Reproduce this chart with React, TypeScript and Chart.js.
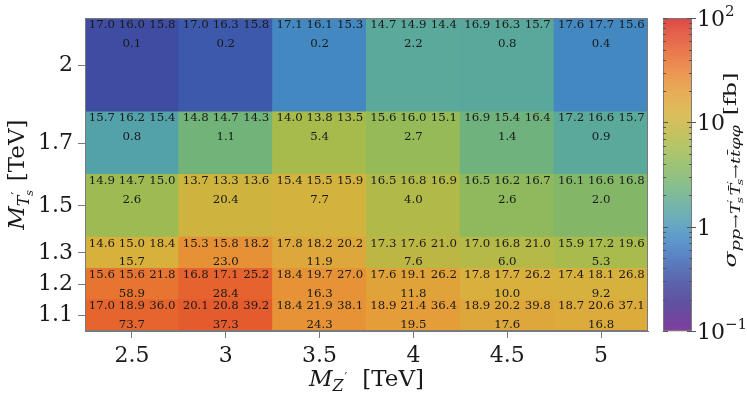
import React, { useEffect, useRef } from "react";
import { Chart, registerables } from "chart.js";

Chart.register(...registerables);

// ---------------- data ----------------
const mzLabels = ["2.5", "3", "3.5", "4", "4.5", "5"];
const mtValues = [1.1, 1.2, 1.3, 1.5, 1.7, 2.0];
const mtLabels = ["1.1", "1.2", "1.3", "1.5", "1.7", "2"];
const mtFloor = 1.0;

// rows follow mtValues (1.1 first), columns follow mzLabels
const firstVal = [
  [17.0, 20.1, 18.4, 18.9, 18.9, 18.7],
  [15.6, 16.8, 18.4, 17.6, 17.8, 17.4],
  [14.6, 15.3, 17.8, 17.3, 17.0, 15.9],
  [14.9, 13.7, 15.4, 16.5, 16.5, 16.1],
  [15.7, 14.8, 14.0, 15.6, 16.9, 17.2],
  [17.0, 17.0, 17.1, 14.7, 16.9, 17.6],
];
const secondVal = [
  [18.9, 20.8, 21.9, 21.4, 20.2, 20.6],
  [15.6, 17.1, 19.7, 19.1, 17.7, 18.1],
  [15.0, 15.8, 18.2, 17.6, 16.8, 17.2],
  [14.7, 13.3, 15.5, 16.8, 16.2, 16.6],
  [16.2, 14.7, 13.8, 16.0, 15.4, 16.6],
  [16.0, 16.3, 16.1, 14.9, 16.3, 17.7],
];
const thirdVal = [
  [36.0, 39.2, 38.1, 36.4, 39.8, 37.1],
  [21.8, 25.2, 27.0, 26.2, 26.2, 26.8],
  [18.4, 18.2, 20.2, 21.0, 21.0, 19.6],
  [15.0, 13.6, 15.9, 16.9, 16.7, 16.8],
  [15.4, 14.3, 13.5, 15.1, 16.4, 15.7],
  [15.8, 15.8, 15.3, 14.4, 15.7, 15.6],
];
const sigmaVal = [
  [73.7, 37.3, 24.3, 19.5, 17.6, 16.8],
  [58.9, 28.4, 16.3, 11.8, 10.0, 9.2],
  [15.7, 23.0, 11.9, 7.6, 6.0, 5.3],
  [2.6, 20.4, 7.7, 4.0, 2.6, 2.0],
  [0.8, 1.1, 5.4, 2.7, 1.4, 0.9],
  [0.1, 0.2, 0.2, 2.2, 0.8, 0.4],
];
// colour level of each cell (fb)
const colourVal = [
  [45, 52, 23.4, 19.7, 16, 14.5],
  [36.7, 46.8, 23.4, 17.2, 13.1, 12.2],
  [12.6, 24, 16, 8, 7.2, 6.1],
  [5.1, 10.2, 11.7, 6.8, 4.0, 3.3],
  [1.29, 2.4, 5.9, 4.5, 2.3, 1.58],
  [0.31, 0.38, 0.79, 1.58, 1.55, 0.79],
];
const cbMin = 0.1;
const cbMax = 100;
const cbMajor = [0.1, 1, 10, 100];

// ---------------- colour map ----------------
const cmapStops: [number, string][] = [
  [0.0, "#6e1f8e"],
  [0.02, "#601f8e"],
  [0.08, "#45308e"],
  [0.15, "#3e469c"],
  [0.215, "#3d63b2"],
  [0.28, "#3f80c4"],
  [0.34, "#4b99b8"],
  [0.4, "#5ba99a"],
  [0.46, "#72b37a"],
  [0.53, "#8cb95d"],
  [0.595, "#a9bb4c"],
  [0.67, "#cdb43f"],
  [0.7, "#d8b13d"],
  [0.76, "#e39f39"],
  [0.825, "#ea8434"],
  [0.89, "#e6622e"],
  [0.955, "#df432b"],
  [1.0, "#d7262a"],
];
function hexRgb(h: string) {
  const n = parseInt(h.slice(1), 16);
  return [(n >> 16) & 255, (n >> 8) & 255, n & 255];
}
function cmap(t: number) {
  t = Math.max(0, Math.min(1, t));
  for (let i = 0; i < cmapStops.length - 1; i++) {
    const [t0, c0] = cmapStops[i];
    const [t1, c1] = cmapStops[i + 1];
    if (t <= t1) {
      const f = (t - t0) / (t1 - t0);
      const a = hexRgb(c0);
      const b = hexRgb(c1);
      const c = a.map((v, k) => Math.round(v + (b[k] - v) * f));
      return `rgb(${c[0]},${c[1]},${c[2]})`;
    }
  }
  return cmapStops[cmapStops.length - 1][1];
}
const logFrac = (v: number) =>
  (Math.log10(v) - Math.log10(cbMin)) / (Math.log10(cbMax) - Math.log10(cbMin));
const colourFor = (v: number) => cmap(logFrac(v));

// row edges: each row spans from the previous mass to its own mass
const rowLo = mtValues.map((m, i) => (i === 0 ? mtFloor : mtValues[i - 1]));
const rowHi = mtValues.slice();
const rowCentre = mtValues.map((_, i) => (rowLo[i] + rowHi[i]) / 2);

// ---------------- text helpers ----------------
const FAM = '"DejaVu Serif", serif';
const fnt = (s: number, it = false) => `${it ? "italic " : ""}${s}px ${FAM}`;
type Seg = { t: string; s: number; i?: boolean; dy?: number; dx?: number };
function segsWidth(ctx: CanvasRenderingContext2D, segs: Seg[]) {
  let w = 0;
  for (const g of segs) {
    ctx.font = fnt(g.s, g.i);
    w += ctx.measureText(g.t).width + (g.dx || 0);
  }
  return w;
}
function drawSegs(ctx: CanvasRenderingContext2D, segs: Seg[], x: number, y: number) {
  let cx = x;
  for (const g of segs) {
    ctx.font = fnt(g.s, g.i);
    cx += g.dx || 0;
    ctx.fillText(g.t, cx, y + (g.dy || 0));
    cx += ctx.measureText(g.t).width;
  }
}

const TEXT = "#1a1a1a";
const FRAME = "#7a7a7a";

const overlayPlugin = {
  id: "overlay",
  afterDatasetsDraw(chart: any) {
    const ctx: CanvasRenderingContext2D = chart.ctx;
    const xs = chart.scales.x;
    const ys = chart.scales.y;
    const area = chart.chartArea;
    ctx.save();
    ctx.fillStyle = TEXT;
    ctx.textAlign = "center";
    ctx.textBaseline = "alphabetic";
    // cell texts
    for (let r = 0; r < mtValues.length; r++) {
      const top = ys.getPixelForValue(rowHi[r]);
      for (let c = 0; c < mzLabels.length; c++) {
        const cx = xs.getPixelForValue(c);
        const small = [firstVal[r][c], secondVal[r][c], thirdVal[r][c]];
        const offs = [-30, 0, 30.5];
        ctx.font = fnt(10.5);
        small.forEach((v, k) => {
          ctx.save();
          ctx.translate(cx + offs[k], top + 9.4);
          ctx.scale(1.12, 1);
          ctx.fillText(v.toFixed(1), 0, 0);
          ctx.restore();
        });
        ctx.save();
        ctx.translate(cx, top + 28.3);
        ctx.scale(1.12, 1);
        ctx.fillText(sigmaVal[r][c].toFixed(1), 0, 0);
        ctx.restore();
      }
    }
    // frame
    ctx.strokeStyle = FRAME;
    ctx.lineWidth = 1;
    ctx.strokeRect(area.left + 0.5, area.top + 0.5, area.right - area.left - 1, area.bottom - area.top - 1);

    // colour bar
    const x0 = area.right + 15;
    const w = 29;
    const top = area.top;
    const bot = area.bottom;
    for (let y = top; y < bot; y++) {
      const t = (bot - y - 0.5) / (bot - top);
      ctx.fillStyle = cmap(t);
      ctx.fillRect(x0, y, w, 1);
    }
    ctx.strokeStyle = FRAME;
    ctx.strokeRect(x0 + 0.5, top + 0.5, w - 1, bot - top - 1);
    const yOf = (v: number) => bot - logFrac(v) * (bot - top);
    ctx.strokeStyle = "#555";
    for (let d = -1; d < 2; d++) {
      for (let m = 2; m <= 9; m++) {
        const y = Math.round(yOf(m * Math.pow(10, d))) + 0.5;
        ctx.beginPath();
        ctx.moveTo(x0, y);
        ctx.lineTo(x0 + 3, y);
        ctx.moveTo(x0 + w - 3, y);
        ctx.lineTo(x0 + w, y);
        ctx.stroke();
      }
    }
    cbMajor.forEach((v) => {
      const y = Math.round(yOf(v)) + 0.5;
      ctx.beginPath();
      ctx.moveTo(x0, y);
      ctx.lineTo(x0 + 5, y);
      ctx.moveTo(x0 + w - 5, y);
      ctx.lineTo(x0 + w + 4, y);
      ctx.stroke();
    });
    ctx.fillStyle = TEXT;
    ctx.textAlign = "left";
    cbMajor.forEach((v) => {
      const y = yOf(v) + 8;
      const e = Math.round(Math.log10(v));
      const segs: Seg[] =
        e === 0 ? [{ t: "1", s: 22 }] : e === 1 ? [{ t: "10", s: 22 }] : [{ t: "10", s: 22 }, { t: e < 0 ? "\u2212" + -e : String(e), s: 15, dy: -10 }];
      drawSegs(ctx, segs, x0 + w + 5, y);
    });

    // x title
    const xt: Seg[] = [
      { t: "M", s: 23, i: true },
      { t: "Z", s: 16, i: true, dy: 5, dx: 0 },
      { t: "\u2032", s: 12, dy: -4, dx: 1 },
      { t: "[TeV]", s: 23, dx: 15 },
    ];
    const xcx = (area.left + area.right) / 2;
    drawSegs(ctx, xt, xcx - segsWidth(ctx, xt) / 2, 386);

    // y title (rotated)
    const yt: Seg[] = [
      { t: "M", s: 23, i: true },
      { t: "T", s: 16, i: true, dy: 5, dx: 0 },
      { t: "\u2032", s: 12, dy: -3, dx: 1 },
      { t: "s", s: 11, i: true, dy: 9, dx: -4 },
      { t: "[TeV]", s: 23, dx: 9 },
    ];
    ctx.save();
    ctx.translate(24, (area.top + area.bottom) / 2);
    ctx.rotate(-Math.PI / 2);
    drawSegs(ctx, yt, -segsWidth(ctx, yt) / 2, 0);
    ctx.restore();

    // colour bar title (rotated, stretched along its length)
    const ct: Seg[] = [
      { t: "\u03c3", s: 17, i: true },
      { t: "pp", s: 12.5, i: true, dy: 4 },
      { t: "\u2192", s: 12.5, dy: 4 },
      { t: "T", s: 12.5, i: true, dy: 4 },
      { t: "\u2032", s: 9, dy: -2 },
      { t: "s", s: 9, i: true, dy: 7, dx: -3 },
      { t: "T\u0304", s: 12.5, i: true, dy: 4, dx: 1 },
      { t: "\u2032", s: 9, dy: -2 },
      { t: "s", s: 9, i: true, dy: 7, dx: -3 },
      { t: "\u2192", s: 12.5, dy: 4 },
      { t: "t", s: 12.5, i: true, dy: 4 },
      { t: "t\u0304", s: 12.5, i: true, dy: 4 },
      { t: "\u03c6\u03c6", s: 12.5, i: true, dy: 4 },
      { t: "[fb]", s: 17, dx: 7 },
    ];
    const cw = segsWidth(ctx, ct);
    const stretch = 195 / cw;
    ctx.save();
    ctx.translate(736, 170);
    ctx.rotate(-Math.PI / 2);
    ctx.scale(stretch, 1);
    drawSegs(ctx, ct, -cw / 2, 0);
    ctx.restore();

    ctx.restore();
  },
};

export default function App() {
  const ref = useRef<HTMLCanvasElement | null>(null);
  useEffect(() => {
    if (!ref.current) return;
    const datasets = mtValues.map((_, r) => ({
      data: mzLabels.map(() => [rowLo[r], rowHi[r]]),
      backgroundColor: colourVal[r].map(colourFor),
      borderWidth: 0,
      barPercentage: 1,
      categoryPercentage: 1,
      grouped: false,
      inflateAmount: 0.5,
    }));
    const chart = new Chart(ref.current, {
      type: "bar",
      data: { labels: mzLabels, datasets: datasets as any },
      options: {
        responsive: false,
        animation: false,
        layout: { padding: { top: 16, right: 99, left: 0, bottom: 0 } },
        plugins: { legend: { display: false }, tooltip: { enabled: false } },
        scales: {
          x: {
            type: "category",
            offset: true,
            grid: { display: true, offset: false, drawOnChartArea: false, drawTicks: true, tickLength: 7, color: FRAME },
            border: { display: true, color: FRAME },
            ticks: { font: { family: FAM, size: 22 }, color: TEXT, padding: 5, maxRotation: 0, autoSkip: false },
            afterFit: (s: any) => {
              s.height = 71;
            },
          },
          y: {
            type: "linear",
            min: mtFloor,
            max: mtValues[mtValues.length - 1],
            afterBuildTicks: (s: any) => {
              s.ticks = rowCentre.map((v) => ({ value: v }));
            },
            grid: { display: true, drawOnChartArea: false, drawTicks: true, tickLength: 7, color: FRAME },
            border: { display: true, color: FRAME },
            ticks: {
              font: { family: FAM, size: 22 },
              color: TEXT,
              padding: 5,
              autoSkip: false,
              callback: (v: any) => {
                let best = 0;
                rowCentre.forEach((c, i) => {
                  if (Math.abs(c - v) < Math.abs(rowCentre[best] - v)) best = i;
                });
                return mtLabels[best];
              },
            },
            afterFit: (s: any) => {
              s.width = 85;
            },
          },
        },
      },
      plugins: [overlayPlugin],
    });
    return () => chart.destroy();
  }, []);
  return (
    <div style={{ position: "absolute", left: 0, top: 0, width: 747, height: 402, background: "#fff" }}>
      <canvas ref={ref} width={747} height={402} style={{ display: "block" }} />
    </div>
  );
}
